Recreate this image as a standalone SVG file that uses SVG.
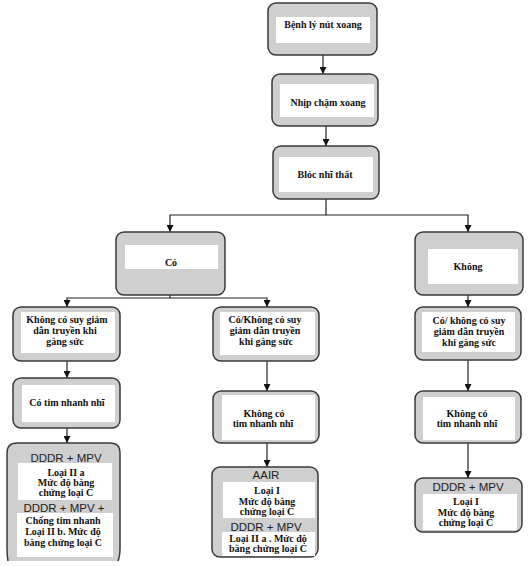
<svg xmlns="http://www.w3.org/2000/svg" width="531" height="566" viewBox="0 0 531 566">
<defs>
<style>
.box{fill:#cfcfcf;stroke:#3a3a3a;stroke-width:1.5}
.in{fill:#ffffff;stroke:none}
.t{font-family:"Liberation Serif","Times New Roman",serif;font-weight:bold;font-size:10px;fill:#111;text-anchor:middle}
.a{font-family:"Liberation Sans",Arial,sans-serif;font-size:11.5px;fill:#222;text-anchor:middle}
.c{fill:none;stroke:#222;stroke-width:1.2}
</style>
<marker id="ah" viewBox="0 0 8 8" refX="8" refY="4" markerWidth="7" markerHeight="7" markerUnits="userSpaceOnUse" orient="auto">
<path d="M0,0 L8,4 L0,8 Z" fill="#111"/>
</marker>
</defs>
<rect width="531" height="566" fill="#ffffff"/>

<g id="connectors">
<line class="c" x1="323" y1="55" x2="323" y2="74" marker-end="url(#ah)"/>
<line class="c" x1="326" y1="126" x2="326" y2="146" marker-end="url(#ah)"/>
<polyline class="c" points="326,199 326,215 170,215 170,232" marker-end="url(#ah)"/>
<polyline class="c" points="326,215 468,215 468,232" marker-end="url(#ah)"/>
<polyline class="c" points="170,295 170,298 67,298 67,307" marker-end="url(#ah)"/>
<polyline class="c" points="170,298 267,298 267,307" marker-end="url(#ah)"/>
<line class="c" x1="468" y1="295" x2="468" y2="307" marker-end="url(#ah)"/>
<line class="c" x1="67" y1="361" x2="67" y2="378" marker-end="url(#ah)"/>
<line class="c" x1="67" y1="428" x2="67" y2="443" marker-end="url(#ah)"/>
<line class="c" x1="267" y1="361" x2="267" y2="391" marker-end="url(#ah)"/>
<line class="c" x1="267" y1="443" x2="267" y2="467" marker-end="url(#ah)"/>
<line class="c" x1="468" y1="360" x2="468" y2="391" marker-end="url(#ah)"/>
<line class="c" x1="468" y1="443" x2="468" y2="478" marker-end="url(#ah)"/>
</g>

<g id="n1">
<rect class="box" x="268" y="3" width="109" height="52" rx="8"/>
<rect class="in" x="276" y="17" width="94" height="26"/>
<text class="t" x="323" y="27.5">Bệnh lý nút xoang</text>
</g>

<g id="n2">
<rect class="box" x="272" y="74" width="106" height="52" rx="8"/>
<rect class="in" x="280" y="84" width="94" height="33"/>
<text class="t" x="328" y="105.5">Nhịp chậm xoang</text>
</g>

<g id="n3">
<rect class="box" x="273" y="146" width="106" height="53" rx="8"/>
<rect class="in" x="279" y="157" width="94" height="35"/>
<text class="t" x="325" y="177.5">Blóc nhĩ thất</text>
</g>

<g id="co">
<rect class="box" x="116" y="232" width="109" height="63" rx="8"/>
<rect class="in" x="125" y="245" width="93" height="24"/>
<text class="t" x="171" y="266">Có</text>
</g>

<g id="khong">
<rect class="box" x="415" y="232" width="108" height="63" rx="8"/>
<rect class="in" x="428" y="249" width="90" height="35"/>
<text class="t" x="468" y="270">Không</text>
</g>

<g id="l1">
<rect class="box" x="13" y="307" width="107" height="54" rx="8"/>
<rect class="in" x="21" y="312" width="94" height="41"/>
<text class="t" x="67" y="322.5">Không có suy giảm</text>
<text class="t" x="65" y="333.5">dẫn truyền khi</text>
<text class="t" x="65" y="344.5">gắng sức</text>
</g>

<g id="l2">
<rect class="box" x="13" y="378" width="107" height="50" rx="8"/>
<rect class="in" x="22" y="385" width="93" height="37"/>
<text class="t" x="67" y="405.5">Có tim nhanh nhĩ</text>
</g>

<g id="l3">
<path class="box" d="M8,561 Q7,556 7,548 L7,453 Q7,443 17,443 L110,443 Q120,443 120,453 L120,548 Q120,556 118,561"/>
<text class="a" x="66" y="462">DDDR + MPV</text>
<rect class="in" x="18" y="463" width="94" height="37"/>
<text class="t" x="66" y="475.5">Loại II a</text>
<text class="t" x="66" y="485.5">Mức độ bằng</text>
<text class="t" x="66" y="495.5">chứng loại C</text>
<text class="a" x="64" y="512">DDDR + MPV +</text>
<rect class="in" x="17" y="513" width="96" height="44"/>
<text class="t" x="63" y="523.5">Chống tim nhanh</text>
<text class="t" x="63" y="534.5">Loại II b. Mức độ</text>
<text class="t" x="63" y="545.5">bằng chứng loại C</text>
</g>

<g id="m1">
<rect class="box" x="213" y="307" width="106" height="54" rx="8"/>
<rect class="in" x="220" y="312" width="95" height="43"/>
<text class="t" x="265" y="322.5">Có/Không có suy</text>
<text class="t" x="265" y="333.5">giảm dẫn truyền</text>
<text class="t" x="266" y="344.5">khi gắng sức</text>
</g>

<g id="m2">
<rect class="box" x="213" y="391" width="106" height="52" rx="8"/>
<rect class="in" x="222" y="395" width="93" height="45"/>
<text class="t" x="264" y="416.5">Không có</text>
<text class="t" x="263" y="426.5">tim nhanh nhĩ</text>
</g>

<g id="m3">
<rect class="box" x="212" y="467" width="106" height="90" rx="8"/>
<text class="a" x="266" y="479">AAIR</text>
<rect class="in" x="223" y="482" width="92" height="36"/>
<text class="t" x="267" y="493.5">Loại I</text>
<text class="t" x="267" y="504.5">Mức độ bằng</text>
<text class="t" x="267" y="514.5">chứng loại C</text>
<text class="a" x="266" y="531">DDDR + MPV</text>
<rect class="in" x="222" y="532" width="93" height="24"/>
<text class="t" x="268" y="541.5">Loại II a . Mức độ</text>
<text class="t" x="268" y="552">bằng chứng loại C</text>
</g>

<g id="r1">
<rect class="box" x="415" y="307" width="106" height="53" rx="8"/>
<rect class="in" x="422" y="312" width="93" height="40"/>
<text class="t" x="469" y="323.5">Có/ không có suy</text>
<text class="t" x="469" y="334.5">giảm dẫn truyền</text>
<text class="t" x="469" y="345.5">khi gắng sức</text>
</g>

<g id="r2">
<rect class="box" x="415" y="391" width="106" height="52" rx="8"/>
<rect class="in" x="423" y="397" width="92" height="43"/>
<text class="t" x="467" y="416.5">Không có</text>
<text class="t" x="467" y="426.5">tim nhanh nhĩ</text>
</g>

<g id="r3">
<rect class="box" x="415" y="478" width="107" height="54" rx="8"/>
<text class="a" x="468" y="491">DDDR + MPV</text>
<rect class="in" x="423" y="494" width="94" height="36"/>
<text class="t" x="466" y="504.5">Loại I</text>
<text class="t" x="466" y="515.5">Mức độ bằng</text>
<text class="t" x="466" y="525.5">chứng loại C</text>
</g>
</svg>
